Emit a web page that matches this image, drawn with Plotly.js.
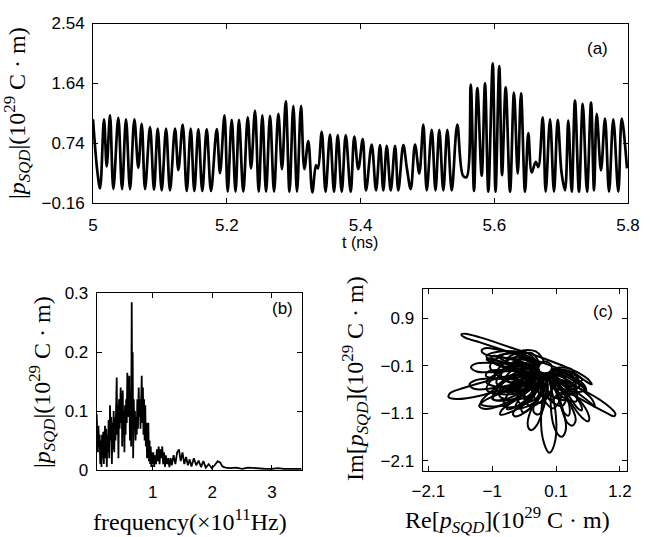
<!DOCTYPE html>
<html>
<head>
<meta charset="utf-8">
<script src="https://cdn.plot.ly/plotly-3.0.1.min.js"></script>
<style>html,body{margin:0;padding:0;background:#fff;}#chart{width:664px;height:537px;}</style>
</head>
<body>
<div id="chart"></div>
<script>
// ---------- panel (a): |p_SQD| vs time (extrema) ----------
const tA = [5.0000,5.0064,5.0105,5.0164,5.0205,5.0254,5.0304,5.0378,5.0434,5.0493,5.0553,5.0618,5.0677,5.0728,5.0778,5.0852,5.0912,5.0967,5.1027,5.1092,5.1151,5.1226,5.1276,5.1341,5.1401,5.1461,5.1515,5.1575,5.1634,5.1700,5.1764,5.1850,5.1899,5.1966,5.2014,5.2074,5.2131,5.2183,5.2247,5.2313,5.2363,5.2422,5.2478,5.2532,5.2587,5.2647,5.2707,5.2771,5.2826,5.2882,5.2938,5.2995,5.3050,5.3110,5.3160,5.3219,5.3279,5.3335,5.3364,5.3420,5.3477,5.3544,5.3604,5.3659,5.3719,5.3779,5.3853,5.3907,5.3967,5.4033,5.4082,5.4167,5.4232,5.4292,5.4341,5.4392,5.4452,5.4516,5.4565,5.4640,5.4695,5.4751,5.4815,5.4879,5.4939,5.4990,5.5065,5.5121,5.5178,5.5238,5.5298,5.5364,5.5447,5.5533,5.5585,5.5648,5.5697,5.5747,5.5812,5.5862,5.5911,5.5977,5.6019,5.6075,5.6116,5.6171,5.6236,5.6295,5.6351,5.6400,5.6460,5.6509,5.6560,5.6620,5.6659,5.6725,5.6769,5.6834,5.6893,5.6949,5.7006,5.7058,5.7107,5.7158,5.7207,5.7267,5.7323,5.7387,5.7447,5.7492,5.7532,5.7596,5.7656,5.7716,5.7780,5.7855,5.7906,5.7985];
const pA = [1.10,0.32,0.06,1.10,0.39,1.16,0.05,1.12,0.05,1.10,0.05,1.10,0.37,1.03,0.05,0.98,0.04,0.96,0.03,0.96,0.03,0.96,0.335,1.02,0.02,0.96,0.02,0.95,0.02,0.95,0.02,0.95,0.29,1.16,0.01,1.09,0.01,1.09,0.01,1.13,0.36,1.23,0.01,1.16,0.01,1.15,0.01,1.18,0.35,1.37,0.01,1.30,0.01,1.30,0.35,0.77,0.00,0.41,0.36,0.91,0.01,0.87,0.01,0.86,0.01,0.86,0.01,0.84,0.35,0.80,0.03,0.72,0.03,0.71,0.03,0.70,0.03,0.70,0.03,0.71,0.35,0.05,0.72,0.285,1.02,0.03,0.94,0.03,0.94,0.03,0.94,0.03,1.02,0.25,0.23,1.62,0.02,1.57,0.25,1.64,0.01,1.94,0.01,1.90,0.26,1.58,0.01,1.50,0.28,1.49,0.01,0.89,0.30,0.46,0.38,1.13,0.01,1.10,0.01,1.09,0.30,0.03,1.08,0.01,1.38,0.01,1.33,0.01,1.35,0.03,1.18,0.33,1.11,0.01,1.10,0.01,1.11,0.36];
const tTicks = [5, 5.2, 5.4, 5.6, 5.8];
const tTickText = ['5', '5.2', '5.4', '5.6', '5.8'];
const pTicks = [-0.16, 0.74, 1.64, 2.54];
const pTickText = ['\u22120.16', '0.74', '1.64', '2.54'];

// ---------- panel (b): spectrum ----------
const fB = [0.060,0.066,0.072,0.080,0.090,0.100,0.110,0.120,0.130,0.140,0.150,0.160,0.170,0.180,0.190,0.200,0.210,0.220,0.230,0.240,0.250,0.260,0.270,0.284,0.295,0.305,0.315,0.325,0.335,0.345,0.355,0.365,0.375,0.385,0.396,0.405,0.415,0.425,0.435,0.445,0.463,0.472,0.480,0.488,0.497,0.505,0.515,0.525,0.535,0.545,0.555,0.565,0.574,0.585,0.595,0.608,0.618,0.628,0.638,0.648,0.656,0.664,0.672,0.682,0.692,0.702,0.712,0.722,0.732,0.742,0.752,0.765,0.775,0.785,0.795,0.805,0.816,0.826,0.836,0.845,0.855,0.865,0.875,0.885,0.895,0.905,0.915,0.927,0.937,0.947,0.957,0.967,0.977,0.987,0.997,1.010,1.025,1.040,1.055,1.070,1.085,1.100,1.115,1.130,1.145,1.160,1.175,1.190,1.205,1.220,1.240,1.260,1.280,1.300,1.320,1.350,1.380,1.410,1.440,1.470,1.500,1.530,1.560,1.590,1.620,1.650,1.690,1.730,1.770,1.810,1.850,1.890,1.940,1.990,2.040,2.090,2.130,2.170,2.220,2.300,2.400,2.500,2.600,2.700,2.800,2.900,3.000,3.100,3.200,3.300,3.400,3.500];
const aB = [0.095,0.060,0.085,0.030,0.075,0.040,0.060,0.010,0.050,0.005,0.060,0.020,0.065,0.010,0.055,0.075,0.020,0.070,0.005,0.060,0.030,0.085,0.020,0.110,0.050,0.090,0.010,0.080,0.035,0.100,0.030,0.090,0.050,0.120,0.157,0.060,0.110,0.020,0.120,0.070,0.140,0.080,0.130,0.040,0.135,0.070,0.100,0.030,0.110,0.060,0.120,0.080,0.165,0.090,0.150,0.160,0.050,0.130,0.040,0.285,0.100,0.200,0.020,0.120,0.070,0.100,0.050,0.090,0.060,0.120,0.070,0.140,0.090,0.120,0.070,0.150,0.160,0.080,0.140,0.060,0.120,0.050,0.110,0.040,0.080,0.020,0.070,0.080,0.015,0.050,0.010,0.040,0.005,0.030,0.010,0.030,0.005,0.025,0.010,0.035,0.015,0.040,0.010,0.035,0.020,0.040,0.010,0.030,0.005,0.025,0.010,0.020,0.005,0.020,0.008,0.025,0.010,0.030,0.035,0.015,0.030,0.010,0.022,0.008,0.018,0.006,0.020,0.008,0.016,0.005,0.015,0.004,0.010,0.003,0.008,0.015,0.013,0.006,0.004,0.003,0.004,0.002,0.004,0.003,0.003,0.002,0.002,0.003,0.002,0.002,0.002,0.002];
const fTicks = [1, 2, 3];
const aTicks = [0, 0.1, 0.2, 0.3];
const aTickText = ['0', '0.1', '0.2', '0.3'];

// ---------- panel (c): Im vs Re trajectory loops (null separates loops) ----------
const reC = [
 -0.641,-1.210,-1.466,-1.529,-1.466,-1.210,-0.641,-0.073,0.496,0.712,0.678,0.496,-0.073,-0.641,null,
 0.041,0.496,0.951,1.122,1.094,0.951,0.496,0.155,0.041,null,
 -0.471,-1.040,-1.495,-1.722,-1.751,-1.608,-1.210,-0.755,-0.414,-0.471,null,
 -0.357,-0.755,-1.125,-1.182,-1.096,-0.698,-0.357,null,
 -0.300,-0.869,-1.296,-1.364,-1.267,-0.812,-0.300,null,
 -0.300,-0.869,-1.296,-1.392,-1.296,-0.812,-0.300,null,
 -0.243,-0.755,-1.153,-1.222,-1.108,-0.641,-0.243,null,
 -0.186,-0.585,-0.840,-0.858,-0.755,-0.414,-0.186,null,
 -0.129,-0.471,-0.641,-0.613,-0.499,-0.243,-0.129,null,
 -0.073,-0.329,-0.385,-0.329,-0.243,-0.129,-0.073,null,
 -0.044,-0.158,-0.101,-0.016,0.070,0.098,-0.044,null,
 0.041,0.013,0.098,0.200,0.269,0.183,0.041,null,
 0.098,0.183,0.297,0.383,0.439,0.297,0.098,null,
 0.155,0.354,0.553,0.656,0.667,0.496,0.155,null,
 0.183,0.439,0.695,0.769,0.724,0.496,0.183,null,
 -0.357,-0.755,-0.983,-1.011,-0.869,-0.528,-0.357,null,
 -0.300,-0.755,-1.068,-1.108,-0.983,-0.641,-0.300,null,
 -0.243,-0.641,-0.954,-0.983,-0.869,-0.528,-0.243,null,
 -0.044,-0.243,-0.289,-0.215,-0.129,-0.073,-0.044,null,
 0.098,0.326,0.468,0.542,0.525,0.354,0.098,null,
 0.041,0.155,0.240,0.314,0.337,0.240,0.041,null,
 0.041,0.326,0.565,0.621,0.582,0.326,0.041,null,
 -0.186,-0.090,0.013,0.013,-0.090,-0.198,-0.186,null,
 -1.040,-0.357,0.269,0.496,0.269,-0.357,-1.040,-1.096,-1.040,null,
 -0.186,-0.528,-0.727,-0.744,-0.641,-0.357,-0.186,null,
 -0.101,-0.357,-0.499,-0.471,-0.385,-0.186,-0.101,null,
 -0.209,-0.620,-1.040,-0.627,-0.209,null,
 -0.203,-0.640,-0.925,-0.487,-0.203,null,
 -0.190,-0.669,-0.869,-0.389,-0.190,null,
 -0.159,-0.516,-0.528,-0.171,-0.159,null,
 -0.108,-0.319,-0.186,0.025,-0.108,null,
 -0.024,-0.034,0.269,0.280,-0.024,null,
 0.015,0.163,0.496,0.348,0.015,null,
 -0.207,-0.446,-0.755,-0.514,-0.207,null,
 -0.200,-0.732,-1.096,-0.562,-0.200,null,
 -0.062,-0.166,0.041,0.145,-0.062,null,
 -0.200,-0.313,-0.528,-0.415,-0.200,null,
 0.003,0.097,0.440,0.346,0.003,null,
 -0.133,-0.434,-0.357,-0.055,-0.133,null,
 -0.209,-0.596,-0.925,-0.538,-0.209,null,
 -0.25,-0.55,-0.85,-0.55,-0.25,null,
 -0.25,-0.50,-0.75,-0.40,-0.25,null,
 -0.20,-0.40,-0.45,-0.20,-0.20,null,
 -0.10,-0.25,-0.10,0.05,-0.10,null,
 0.00,0.05,0.30,0.25,0.00,null,
 0.02,0.25,0.55,0.30,0.02,null,
 -0.22,-0.45,-0.70,-0.45,-0.22,null,
 -0.22,-0.50,-0.90,-0.55,-0.22,null,
 -0.25,-0.70,-1.00,-0.50,-0.25,null,
 -0.15,-0.45,-0.60,-0.25,-0.15,null,
 -0.05,-0.15,0.05,0.20,-0.05,null,
 0.05,0.15,0.45,0.40,0.05,null,
 -0.30,-0.70,-1.10,-0.70,-0.30,null,
 -0.30,-0.80,-1.20,-0.70,-0.30,null,
 -0.28,-0.65,-1.10,-0.70,-0.28,null,
 0.04,0.30,0.60,0.40,0.04,null,
 -0.18,-0.60,-0.80,-0.35,-0.18,null,
 0.00,-0.05,0.20,0.30,0.00,null,
 -0.12,-0.25,-0.50,-0.40,-0.12,null,
 -0.30,-0.60,-0.95,-0.55,-0.30
];
const imC = [
 0.266,0.497,0.574,0.560,0.490,0.392,0.161,-0.062,-0.342,-0.496,-0.419,-0.258,0.036,0.266,null,
 -0.342,-0.572,-0.901,-1.111,-1.166,-1.083,-0.782,-0.538,-0.342,null,
 -0.293,-0.412,-0.572,-0.677,-0.761,-0.803,-0.733,-0.572,-0.433,-0.293,null,
 0.022,0.196,0.266,0.210,0.126,0.056,0.022,null,
 -0.153,-0.048,-0.062,-0.132,-0.223,-0.223,-0.153,null,
 -0.363,-0.363,-0.412,-0.503,-0.593,-0.538,-0.363,null,
 -0.468,-0.642,-0.852,-0.957,-1.013,-0.817,-0.468,null,
 -0.503,-0.817,-1.041,-1.131,-1.111,-0.887,-0.503,null,
 -0.538,-0.887,-1.097,-1.166,-1.131,-0.852,-0.538,null,
 -0.538,-1.027,-1.376,-1.460,-1.376,-1.027,-0.538,null,
 -0.398,-1.166,-1.760,-1.935,-1.760,-1.166,-0.398,null,
 -0.503,-1.027,-1.481,-1.600,-1.446,-0.887,-0.503,null,
 -0.503,-0.957,-1.306,-1.362,-1.236,-0.817,-0.503,null,
 -0.468,-0.887,-1.201,-1.271,-1.166,-0.817,-0.468,null,
 -0.398,-0.642,-0.887,-0.971,-0.817,-0.572,-0.398,null,
 -0.083,0.056,0.105,0.036,-0.013,-0.104,-0.083,null,
 -0.258,-0.188,-0.223,-0.314,-0.363,-0.363,-0.258,null,
 -0.398,-0.572,-0.712,-0.803,-0.831,-0.677,-0.398,null,
 -0.468,-0.817,-1.062,-1.131,-1.027,-0.747,-0.468,null,
 -0.398,-0.747,-0.992,-1.041,-0.922,-0.642,-0.398,null,
 -0.433,-0.817,-1.097,-1.152,-1.027,-0.677,-0.433,null,
 -0.188,-0.363,-0.558,-0.621,-0.503,-0.293,-0.188,null,
 -0.083,-0.013,-0.083,-0.202,-0.258,-0.202,-0.083,null,
 0.056,-0.258,-0.433,-0.572,-0.503,-0.328,-0.013,0.030,0.056,null,
 -0.433,-0.747,-0.922,-1.013,-0.992,-0.747,-0.433,null,
 -0.468,-0.782,-0.992,-1.083,-1.041,-0.782,-0.468,null,
 -0.129,0.202,-0.119,-0.452,-0.129,null,
 -0.178,-0.035,-0.467,-0.609,-0.178,null,
 -0.211,-0.211,-0.748,-0.748,-0.211,null,
 -0.251,-0.419,-0.886,-0.721,-0.251,null,
 -0.276,-0.549,-0.886,-0.616,-0.276,null,
 -0.255,-0.660,-0.817,-0.412,-0.255,null,
 -0.203,-0.572,-0.538,-0.169,-0.203,null,
 -0.104,0.187,0.022,-0.270,-0.104,null,
 -0.184,-0.121,-0.607,-0.670,-0.184,null,
 -0.274,-0.591,-0.817,-0.503,-0.274,null,
 -0.075,0.162,0.091,-0.148,-0.075,null,
 -0.226,-0.635,-0.677,-0.270,-0.226,null,
 -0.268,-0.521,-0.958,-0.706,-0.268,null,
 -0.148,0.084,-0.257,-0.490,-0.148,null,
 -0.20,-0.05,-0.30,-0.40,-0.20,null,
 -0.25,-0.30,-0.65,-0.55,-0.25,null,
 -0.28,-0.50,-0.80,-0.60,-0.28,null,
 -0.30,-0.55,-0.75,-0.50,-0.30,null,
 -0.28,-0.55,-0.60,-0.35,-0.28,null,
 -0.22,-0.45,-0.40,-0.20,-0.22,null,
 -0.10,0.05,-0.10,-0.25,-0.10,null,
 -0.05,0.15,0.10,-0.10,-0.05,null,
 -0.30,-0.35,-0.80,-0.75,-0.30,null,
 -0.32,-0.65,-1.00,-0.85,-0.32,null,
 -0.32,-0.70,-1.00,-0.65,-0.32,null,
 -0.30,-0.70,-0.85,-0.50,-0.30,null,
 -0.15,-0.15,-0.45,-0.55,-0.15,null,
 -0.22,-0.45,-0.90,-0.90,-0.22,null,
 -0.12,0.20,0.10,-0.15,-0.12,null,
 -0.18,-0.30,-0.60,-0.65,-0.18,null,
 -0.30,-0.50,-0.95,-0.85,-0.30,null,
 -0.30,-0.75,-0.95,-0.60,-0.30,null,
 -0.02,0.20,0.20,0.00,-0.02,null,
 -0.18,-0.25,-0.60,-0.60,-0.18
];
const reTicks = [-2.1, -1, 0.1, 1.2];
const reTickText = ['\u22122.1', '\u22121', '0.1', '1.2'];
const imTicks = [0.9, -0.1, -1.1, -2.1];
const imTickText = ['0.9', '\u22120.1', '\u22121.1', '\u22122.1'];

// ---------- drawing ----------
const SANS = 'Liberation Sans, Arial, sans-serif';
const SERIF = 'Liberation Serif, Times New Roman, serif';
const tickFont = {family: SANS, size: 17, color: '#000'};

function axisBase(extra) {
  return Object.assign({
    showline: true, linecolor: '#000', linewidth: 1, mirror: 'ticks',
    ticks: 'inside', ticklen: 5, tickwidth: 1, tickcolor: '#000',
    showgrid: false, zeroline: false, tickfont: tickFont, tickmode: 'array',
    fixedrange: true
  }, extra);
}

const traces = [
  {x: tA, y: pA, xaxis: 'x', yaxis: 'y', mode: 'lines', type: 'scatter',
   line: {color: '#000', width: 2.7, shape: 'spline', smoothing: 1}, hoverinfo: 'skip'},
  {x: fB, y: aB, xaxis: 'x2', yaxis: 'y2', mode: 'lines', type: 'scatter',
   line: {color: '#000', width: 1.8}, hoverinfo: 'skip'},
  {x: reC, y: imC, xaxis: 'x3', yaxis: 'y3', mode: 'lines', type: 'scatter', connectgaps: false,
   line: {color: '#000', width: 2.0, shape: 'spline', smoothing: 1}, hoverinfo: 'skip'}
];

const pLabel = '<i>p</i><sub><i>SQD</i></sub>';
const unit = '(10<sup>29</sup> C \u00b7 m)';

function ann(text, x, y, font, angle) {
  return {text: text, x: x, y: y, xref: 'paper', yref: 'paper', xanchor: 'center', yanchor: 'middle',
          showarrow: false, font: font, textangle: angle || 0};
}
const serifFont = {family: SERIF, size: 24, color: '#000'};
const labelFont = {family: SANS, size: 17, color: '#000'};

const layout = {
  width: 664, height: 537,
  margin: {l: 0, r: 0, t: 0, b: 0},
  paper_bgcolor: '#fff', plot_bgcolor: '#fff',
  showlegend: false,
  xaxis: axisBase({domain: [0.1401, 0.9458], range: [5, 5.8], tickvals: tTicks, ticktext: tTickText, anchor: 'y', ticklabelstandoff: 7}),
  yaxis: axisBase({domain: [0.6220, 0.9562], range: [-0.16, 2.54], tickvals: pTicks, ticktext: pTickText, anchor: 'x', ticklabelstandoff: 4}),
  xaxis2: axisBase({domain: [0.1456, 0.4544], range: [0.06, 3.5], tickvals: fTicks, anchor: 'y2', ticklabelstandoff: 7}),
  yaxis2: axisBase({domain: [0.1248, 0.4538], range: [0, 0.3], tickvals: aTicks, ticktext: aTickText, anchor: 'x2', ticklabelstandoff: 4}),
  xaxis3: axisBase({domain: [0.6363, 0.9450], range: [-2.2, 1.33], tickvals: reTicks, ticktext: reTickText, anchor: 'y3', ticklabelstandoff: 5}),
  yaxis3: axisBase({domain: [0.1229, 0.4613], range: [-2.32, 1.51], tickvals: imTicks, ticktext: imTickText, anchor: 'x3', ticklabelstandoff: 4}),
  annotations: [
    ann('(a)', 0.9006, 0.9106, labelFont),
    ann('(b)', 0.4262, 0.4264, labelFont),
    ann('(c)', 0.9081, 0.4190, labelFont),
    ann('t (ns)', 0.5422, 0.5475, {family: SANS, size: 16, color: '#000'}),
    ann('|' + pLabel + '|' + unit, 0.0256, 0.7896, serifFont, -90),
    ann('|' + pLabel + '|' + unit, 0.0633, 0.2886, serifFont, -90),
    ann('frequency(\u00d710<sup>11</sup>Hz)', 0.2861, 0.0317, serifFont),
    ann('Im[' + pLabel + ']' + unit, 0.5346, 0.2961, serifFont, -90),
    ann('Re[' + pLabel + ']' + unit, 0.7636, 0.0317, serifFont)
  ]
};

Plotly.newPlot('chart', traces, layout, {displayModeBar: false, staticPlot: true});
</script>
</body>
</html>
